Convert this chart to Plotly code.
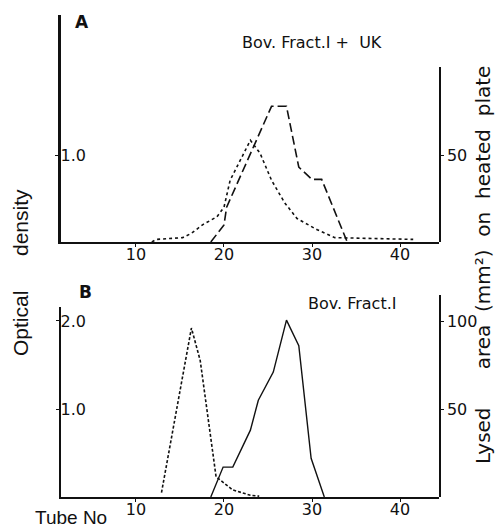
import plotly.graph_objects as go

W, H = 497, 528

# Panel A: Bov. Fract.I + UK
a_od_x = [11.8, 12.3, 15.3, 16.3, 17.6, 19.2, 20.0, 20.7, 23.0, 24.1, 25.4, 26.9, 28.3, 30.6, 32.6, 41.5]
a_od_y = [0.0, 0.03, 0.05, 0.10, 0.20, 0.29, 0.40, 0.71, 1.17, 1.02, 0.71, 0.45, 0.27, 0.14, 0.05, 0.03]
a_lys_x = [18.5, 20.0, 20.3, 25.4, 27.1, 28.5, 30.0, 31.1, 34.0]
a_lys_y = [0, 9.8, 20, 78, 78, 43, 36, 36, 0]

# Panel B: Bov. Fract.I
b_od_x = [12.9, 16.3, 17.3, 19.1, 21.0, 23.0, 24.0]
b_od_y = [0.05, 1.92, 1.55, 0.23, 0.08, 0.02, 0.01]
b_lys_x = [18.5, 19.9, 21.0, 23.0, 23.9, 25.6, 27.1, 28.5, 29.9, 31.4]
b_lys_y = [0, 17, 17, 38, 55, 71, 100.5, 86, 22, 0]

x_ticks = [10, 20, 30, 40]
a_left_ticks = [1.0]
a_left_labels = ["1.0"]
a_right_ticks = [50]
b_left_ticks = [1.0, 2.0]
b_left_labels = ["1.0", "2.0"]
b_right_ticks = [50, 100]

def px_x(p):
    return p / W

def px_y(p):
    return 1 - p / H

BLACK = "#111"
TICKFONT = dict(family="DejaVu Sans", size=16, color=BLACK)

fig = go.Figure()
fig.add_trace(go.Scatter(x=a_od_x, y=a_od_y, xaxis="x", yaxis="y", mode="lines",
                         line=dict(color=BLACK, width=1.6, dash="dot"), cliponaxis=False))
fig.add_trace(go.Scatter(x=a_lys_x, y=a_lys_y, xaxis="x", yaxis="y2", mode="lines",
                         line=dict(color=BLACK, width=1.6, dash="9px,4px"), cliponaxis=False))
fig.add_trace(go.Scatter(x=b_od_x, y=b_od_y, xaxis="x2", yaxis="y3", mode="lines",
                         line=dict(color=BLACK, width=1.6, dash="3px,2px"), cliponaxis=False))
fig.add_trace(go.Scatter(x=b_lys_x, y=b_lys_y, xaxis="x2", yaxis="y4", mode="lines",
                         line=dict(color=BLACK, width=1.4), cliponaxis=False))

xdom = [px_x(61), px_x(439)]
xr = [1.48, 44.43]
common_x = dict(domain=xdom, range=xr, tickvals=x_ticks, showline=True, linecolor=BLACK,
                linewidth=1.5, ticks="outside", ticklen=3, tickcolor=BLACK, tickfont=TICKFONT,
                ticklabelstandoff=-6, showgrid=False, zeroline=False)
common_y = dict(showline=True, linecolor=BLACK, linewidth=1.5, ticks="outside", ticklen=3,
                tickcolor=BLACK, tickfont=TICKFONT, showgrid=False, zeroline=False)

fig.update_layout(
    width=W, height=H, margin=dict(l=0, r=0, t=0, b=0),
    paper_bgcolor="white", plot_bgcolor="rgba(0,0,0,0)", showlegend=False,
    xaxis=dict(anchor="y", **common_x),
    xaxis2=dict(anchor="y3", **common_x),
    yaxis=dict(anchor="x", domain=[px_y(242), px_y(15)], range=[0, 2.61],
               tickvals=a_left_ticks, ticktext=a_left_labels, ticklabelposition="inside",
               **{**common_y, "linewidth": 2.5}),
    yaxis2=dict(anchor="x", side="right", domain=[px_y(242), px_y(67)], range=[0, 100.6],
                tickvals=a_right_ticks, **common_y),
    yaxis3=dict(anchor="x2", domain=[px_y(497), px_y(307)], range=[0, 2.159],
                tickvals=b_left_ticks, ticktext=b_left_labels, ticklabelposition="inside",
                **common_y),
    yaxis4=dict(anchor="x2", side="right", domain=[px_y(497), px_y(295)], range=[0, 114.8],
                tickvals=b_right_ticks, **common_y),
)

def ann(text, x, y, size=16, angle=0, bold=False, family="DejaVu Sans"):
    fig.add_annotation(text=f"<b>{text}</b>" if bold else text, x=px_x(x), y=px_y(y),
                       xref="paper", yref="paper", showarrow=False, textangle=angle,
                       xanchor="center", yanchor="middle",
                       font=dict(family=family, size=size, color=BLACK))

NB = "\u00a0"
ann("A", 82, 22, size=17, bold=True)
ann("Bov. Fract.I +  UK", 312, 43, size=16)
ann("B", 85, 292, size=17, bold=True)
ann("Bov. Fract.I", 352, 303, size=16)
ann("Optical", 20, 324, size=21, angle=-90, family="Liberation Sans")
ann("density", 20, 223, size=21, angle=-90, family="Liberation Sans")
ann("Lysed" + NB * 6 + "area" + NB * 2 + "(mm²)" + NB * 2 + "on" + NB * 2 + "heated" + NB * 2 + "plate",
    483, 265, size=20, angle=-90)
ann("Tube No", 71, 517, size=19, family="Liberation Sans")

fig.write_html("out.html")
